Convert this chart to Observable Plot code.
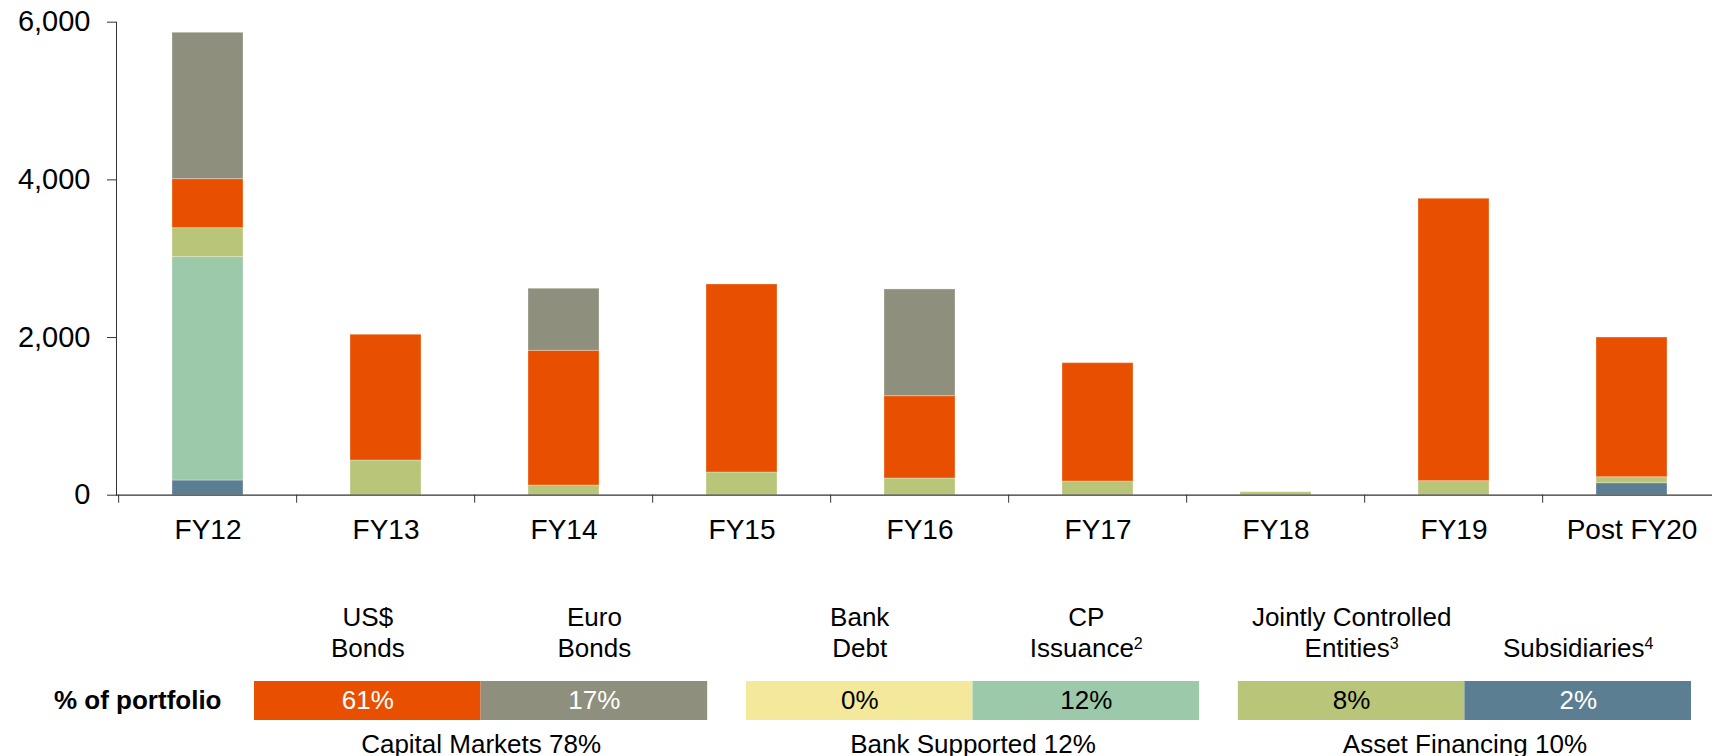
<!DOCTYPE html>
<html>
<head>
<meta charset="utf-8">
<script src="https://cdn.jsdelivr.net/npm/d3@7"></script>
<script src="https://cdn.jsdelivr.net/npm/@observablehq/plot@0.6"></script>
<style>
  html, body { margin: 0; padding: 0; background: #fff; }
  #chart svg { display: block; }
</style>
</head>
<body>
<div id="chart"></div>
<script>
// ---- data ----
const categories = ["FY12", "FY13", "FY14", "FY15", "FY16", "FY17", "FY18", "FY19", "Post FY20"];
const subsidiaries      = [186,    0,    0,    0,    0,    0,  0,    0,  152];
const bankDebt          = [  0,    0,    0,    0,    0,    0,  0,    0,    0];
const cpIssuance        = [2834,   0,    0,    0,    0,    0,  0,    0,    0];
const jointlyControlled = [368,  440,  123,  288,  212,  173, 38,  178,   76];
const usdBonds          = [621, 1595, 1709, 2385, 1044, 1502,  0, 3582, 1772];
const euroBonds         = [1857,   0,  787,    0, 1354,    0,  0,    0,    0];
const yTicks = [0, 2000, 4000, 6000];

const seriesKeys = ["Subsidiaries", "Bank Debt", "CP Issuance", "Jointly Controlled Entities", "US$ Bonds", "Euro Bonds"];
const seriesValues = [subsidiaries, bankDebt, cpIssuance, jointlyControlled, usdBonds, euroBonds];
const seriesColors = ["#5b7e92", "#f4e99a", "#9cc9a9", "#b9c578", "#e85000", "#8f8f7d"];

// legend table
const legendKeys   = ["US$ Bonds", "Euro Bonds", "Bank Debt", "CP Issuance", "Jointly Controlled Entities", "Subsidiaries"];
const legendLabels = ["US$\nBonds", "Euro\nBonds", "Bank\nDebt", "CP\nIssuance\u00B2", "Jointly Controlled\nEntities\u00B3", "Subsidiaries\u2074"];
const legendShares = [61, 17, 0, 12, 8, 2];
const legendWhiteText = [true, true, false, false, false, true];
const groupNames  = ["Capital Markets", "Bank Supported", "Asset Financing"];
const groupShares = [78, 12, 10];

// ---- build tables ----
const rows = [];
seriesKeys.forEach((key, s) => {
  categories.forEach((cat, i) => rows.push({category: cat, series: key, value: seriesValues[s][i]}));
});

const font = "'Liberation Sans', Arial, Helvetica, sans-serif";
const color = {domain: seriesKeys, range: seriesColors};

const W = 1712, H = 560;
const mL = 116, mR = -12, mT = 21.7, mB = 65.3;
const step = (W - mL - mR) / categories.length;

const main = Plot.plot({
  width: W, height: H,
  marginLeft: mL, marginRight: mR, marginTop: mT, marginBottom: mB,
  style: {fontFamily: font, fontSize: "28px", color: "#000", background: "#fff"},
  x: {type: "band", domain: categories, paddingInner: 0.6, paddingOuter: 0.3},
  y: {domain: [0, 6000]},
  color,
  marks: [
    Plot.barY(rows, Plot.stackY({x: "category", y: "value", fill: "series", stroke: "#fff", strokeOpacity: 0.3, strokeWidth: 1})),
    Plot.frame({anchor: "left", stroke: "#333"}),
    Plot.ruleY([0], {stroke: "#333", strokeWidth: 1.2}),
    Plot.axisY({ticks: yTicks, tickSize: 9, tickPadding: 17, fontSize: 29, stroke: "#333", fill: "#000",
      tickFormat: d => d.toLocaleString("en-US"), label: null}),
    Plot.axisX({tickSize: 8, tickFormat: () => "", dx: -step / 2, stroke: "#333", label: null}),
    Plot.axisX({tickSize: 0, tickPadding: 24, fontSize: 28, fill: "#000", label: null})
  ]
});

// legend table as a second plot
const groupGap = 0.171;
const legendData = legendKeys.map((key, i) => {
  const g = Math.floor(i / 2);
  const x1 = i + g * groupGap;
  return {key, label: legendLabels[i], share: legendShares[i], white: legendWhiteText[i], x1, x2: x1 + 1, xc: x1 + 0.5};
});
const groupData = groupNames.map((name, g) => ({
  text: `${name} ${groupShares[g]}%`,
  xc: g * (2 + groupGap) + 1
}));

const legend = Plot.plot({
  width: W, height: 196,
  marginLeft: 254, marginRight: 21, marginTop: 121, marginBottom: 36,
  style: {fontFamily: font, fontSize: "26px", color: "#000", background: "#fff", overflow: "visible"},
  x: {domain: [0, 6 + 2 * groupGap], axis: null},
  color,
  marks: [
    Plot.rect(legendData, {x1: "x1", x2: "x2", fill: "key"}),
    Plot.text(legendData.filter(d => d.white), {x: "xc", text: d => d.share + "%", fill: "#fff", fontSize: 26}),
    Plot.text(legendData.filter(d => !d.white), {x: "xc", text: d => d.share + "%", fill: "#000", fontSize: 26}),
    Plot.text(legendData, {x: "xc", text: "label", frameAnchor: "top", lineAnchor: "bottom", dy: -25, lineHeight: 1.19, fontSize: 26, fill: "#000"}),
    Plot.text(groupData, {x: "xc", text: "text", frameAnchor: "bottom", lineAnchor: "bottom", dy: 32, fontSize: 26, fill: "#000"}),
    Plot.text(["% of portfolio"], {text: d => d, frameAnchor: "left", textAnchor: "end", dx: -33, fontWeight: "bold", fontSize: 26, fill: "#000"})
  ]
});

// render the footnote superscripts as smaller raised digits in the same font
const supMap = {"\u00B2": "2", "\u00B3": "3", "\u2074": "4"};
legend.querySelectorAll("text, tspan").forEach(el => {
  for (const node of [...el.childNodes]) {
    if (node.nodeType !== 3) continue;
    const m = node.nodeValue.match(/[\u00B2\u00B3\u2074]/);
    if (!m) continue;
    const after = node.nodeValue.slice(m.index + 1);
    node.nodeValue = node.nodeValue.slice(0, m.index);
    const sup = document.createElementNS("http://www.w3.org/2000/svg", "tspan");
    sup.setAttribute("font-size", "16px");
    sup.setAttribute("baseline-shift", "8px");
    sup.textContent = supMap[m[0]];
    el.insertBefore(sup, node.nextSibling);
    if (after) el.insertBefore(document.createTextNode(after), sup.nextSibling);
  }
});

document.getElementById("chart").append(main, legend);
</script>
</body>
</html>
